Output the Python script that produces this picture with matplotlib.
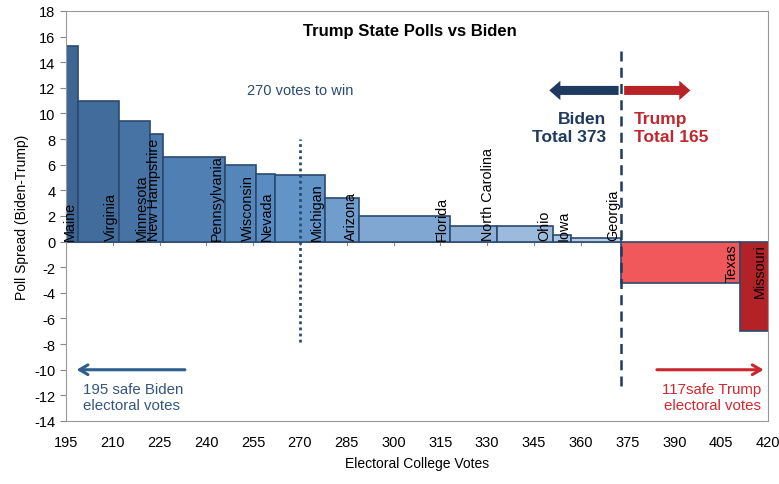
import matplotlib.pyplot as plt
from matplotlib.colors import LinearSegmentedColormap

plt.rcParams["font.family"] = ["Liberation Sans", "DejaVu Sans"]
plt.rcParams["axes.unicode_minus"] = False

# Estados ordenados por margen, votos electorales y margen en encuestas
STATES = ["Maine", "Virginia", "Minnesota", "New Hampshire", "Pennsylvania",
          "Wisconsin", "Nevada", "Michigan", "Arizona", "Florida",
          "North Carolina", "Ohio", "Iowa", "Georgia", "Texas", "Missouri"]
VOTES = [4, 13, 10, 4, 20, 10, 6, 16, 11, 29, 15, 18, 6, 16, 38, 10]
SPREAD = [15.3, 11.0, 9.4, 8.4, 6.6, 6.0, 5.3, 5.2, 3.4, 2.0,
          1.2, 1.2, 0.5, 0.3, -3.2, -7.0]

SAFE_BIDEN = 195
SAFE_TRUMP = 117
WIN = 270

fig = plt.figure(figsize=(7.79, 4.85), dpi=100)
ax = fig.add_axes([0.0847, 0.1299, 0.9012, 0.8454])

# Colores: degradado azul para Biden, rojos para Trump
blues = LinearSegmentedColormap.from_list("b", ["#3d6694", "#5b8fc6", "#b9cde6"])
n_biden = sum(1 for s in SPREAD if s > 0)
colors = [blues(i / (n_biden - 1)) for i in range(n_biden)] + ["#f0585c", "#b32227"]

left = SAFE_BIDEN
lefts = []
for v in VOTES:
    lefts.append(left)
    left += v

ax.bar(lefts, SPREAD, width=VOTES, align="edge", color=colors,
       edgecolor="#2a4a70", linewidth=1.2, zorder=2)

# Etiquetas de cada estado, giradas dentro de la barra
for name, x0, v, s in zip(STATES, lefts, VOTES, SPREAD):
    xr = min(x0 + v, 420) - 0.4
    if s > 0:
        ax.text(xr, 0.15, name, rotation=90, ha="right", va="bottom",
                fontsize=10.4, color="black", zorder=3)
    else:
        ax.text(xr, -0.15, name, rotation=90, ha="right", va="top",
                fontsize=10.4, color="black", zorder=3)

biden_total = SAFE_BIDEN + sum(v for v, s in zip(VOTES, SPREAD) if s > 0)
trump_total = SAFE_TRUMP + sum(v for v, s in zip(VOTES, SPREAD) if s < 0)

# Linea de 270 votos y linea divisoria
ax.plot([WIN, WIN], [-7.8, 8.0], color="#2a4a70", linestyle=(0, (1, 1.2)),
        linewidth=2, zorder=4)
ax.text(WIN, 11.8, f"{WIN} votes to win", ha="center", va="center",
        fontsize=10.5, color="#2a4a70")
ax.plot([biden_total, biden_total], [-11.3, 15.2], color="#1f3a5f",
        linestyle=(0, (4, 2.5)), linewidth=1.8, zorder=4)

# Flechas superiores
ax.annotate("", xy=(349, 11.8), xytext=(biden_total, 11.8),
            arrowprops=dict(arrowstyle="simple,head_width=1.4,head_length=0.8,tail_width=0.65",
                            color="#1f3a5f", lw=0), zorder=5)
ax.annotate("", xy=(396, 11.8), xytext=(biden_total, 11.8),
            arrowprops=dict(arrowstyle="simple,head_width=1.4,head_length=0.8,tail_width=0.65",
                            color="#b82328", lw=0), zorder=5)
ax.text(368, 8.9, f"Biden\nTotal {biden_total}", ha="right", va="center",
        fontsize=12.5, fontweight="bold", color="#1f3a5f", linespacing=1.3)
ax.text(377, 8.9, f"Trump\nTotal {trump_total}", ha="left", va="center",
        fontsize=12.5, fontweight="bold", color="#c0272d", linespacing=1.3)

# Flechas de votos seguros
ax.annotate("", xy=(197.5, -10), xytext=(234, -10),
            arrowprops=dict(arrowstyle="->,head_width=0.35,head_length=0.6",
                            color="#2e5e8e", lw=2.2), zorder=5)
ax.text(200.3, -12.1, f"{SAFE_BIDEN} safe Biden\nelectoral votes", ha="left",
        va="center", fontsize=10.8, color="#34567e", linespacing=1.2)
ax.annotate("", xy=(419.5, -10), xytext=(383.5, -10),
            arrowprops=dict(arrowstyle="->,head_width=0.35,head_length=0.6",
                            color="#c9272d", lw=2.2), zorder=5)
ax.text(417.8, -12.1, f"{SAFE_TRUMP}safe Trump\nelectoral votes", ha="right",
        va="center", fontsize=10.8, color="#d0282e", linespacing=1.2)

ax.text(0.49, 16.5, "Trump State Polls vs Biden", transform=ax.get_yaxis_transform(),
        ha="center", va="center", fontsize=12, fontweight="bold")

ax.set_xlim(195, 420)
ax.set_ylim(-14, 18)
ax.set_xticks(range(195, 421, 15))
ax.set_yticks(range(-14, 19, 2))
ax.tick_params(axis="x", length=0, labelsize=10.5, pad=10)
ax.tick_params(axis="y", length=4, color="#888888", labelsize=10.5)
for sp in ax.spines.values():
    sp.set_color("#999999")

# Eje horizontal en cero con marcas hacia abajo
ax.axhline(0, color="#888888", linewidth=0.8, zorder=1)
for x in range(195, 421, 15):
    ax.plot([x, x], [0, -0.3], color="#888888", linewidth=0.8, zorder=1)

ax.set_ylabel("Poll Spread (Biden-Trump)", fontsize=10)
ax.set_xlabel("Electoral College Votes", fontsize=10, labelpad=5)

plt.savefig("out.png", dpi=100)
